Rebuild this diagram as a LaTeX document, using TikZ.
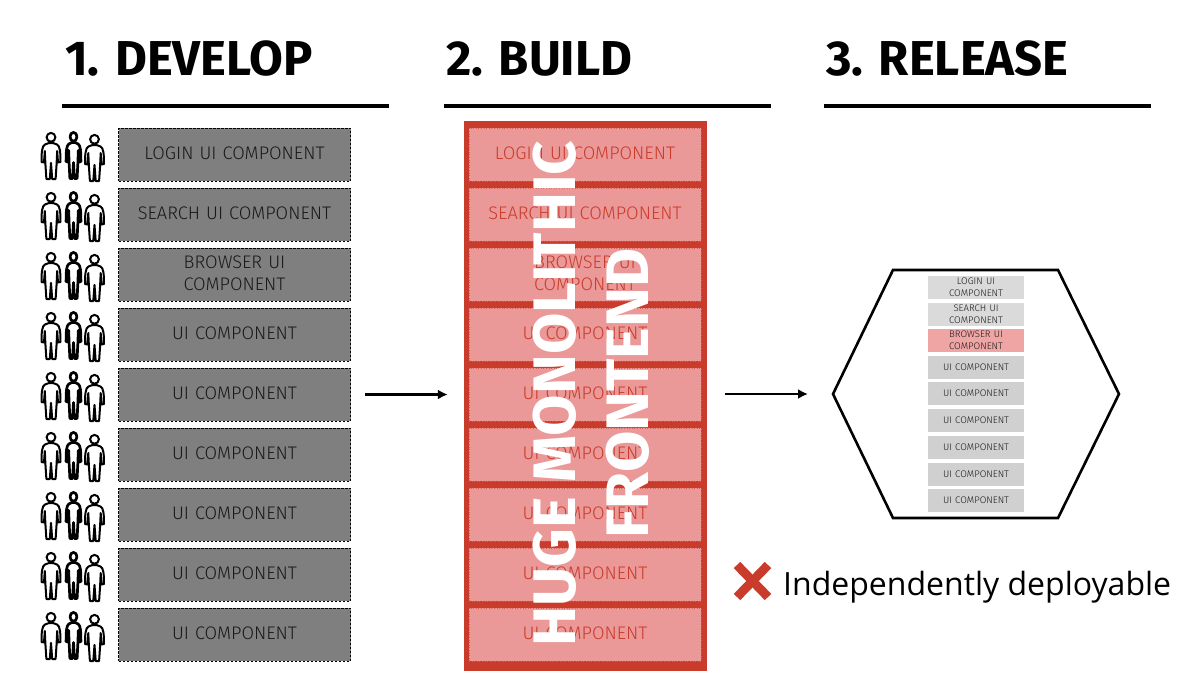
\documentclass[tikz,border=0pt]{standalone}
\usepackage{fontspec}
\setmainfont{Fira Sans}
\newfontfamily\compfont{Fira Sans Light}
\newfontfamily\headfont{Fira Sans}
\newfontfamily\notefont{Open Sans}
\definecolor{redd}{HTML}{C93C2B}
\definecolor{pinkk}{HTML}{EA9898}
\definecolor{grayy}{HTML}{7F7F7F}
\definecolor{lgr}{HTML}{D0D0D0}
\definecolor{lgrb}{HTML}{DADADA}
\definecolor{lpink}{HTML}{F0A5A5}
\usetikzlibrary{arrows.meta}
\tikzset{
  x=1pt,y=-1pt,
  heading/.style={anchor=base west,inner sep=0pt,font=\headfont\bfseries\fontsize{49}{49}\selectfont,text=black},
  rulebar/.style={line width=4pt,black},
  devbox/.style={draw=black,line width=.7pt,dash pattern=on 2.5pt off 1.5pt,fill=grayy,minimum width=232pt,minimum height=53pt,inner sep=2pt,align=center,text width=215pt,font=\compfont\fontsize{18.2}{21.5}\selectfont,text=black!90},
  redbox/.style={draw=redd!60!pinkk,line width=.6pt,dotted,fill=pinkk,minimum width=232pt,minimum height=53pt,inner sep=2pt,align=center,text width=215pt,font=\compfont\fontsize{18.2}{21.5}\selectfont,text=redd},
  smallbox/.style={fill=lgr,minimum width=96pt,minimum height=23pt,inner sep=0pt,align=center,text width=90pt,font=\compfont\fontsize{9.6}{12}\selectfont,text=black!90},
  flow/.style={line width=2.6pt,black,-{Latex[length=10pt,width=10pt]}},
  hex/.style={line width=2.6pt,black,line join=miter},
  figure/.style={line width=2pt,draw=black,fill=white,line join=round},
  person/.pic={
    \path[figure] (0,-4.7) circle (4.4);
    \path[figure] (-2,1) -- (2,1) -- (6,2.5) .. controls (9,4) and (9.5,10) .. (9.5,20) -- (7,20.5) -- (6.2,9) -- (5.6,22) -- (4.6,37) -- (1.2,37) -- (0,21) -- (-1.2,37) -- (-4.6,37) -- (-5.6,22) -- (-6.2,9) -- (-7,20.5) -- (-9.5,20) .. controls (-9.5,10) and (-9,4) .. (-6,2.5) -- cycle;
  }
}
\begin{document}
\begin{tikzpicture}
\useasboundingbox (0,0) rectangle (1200,675);
\fill[white] (0,0) rectangle (1200,675);
% headings
\node[heading] (h1) at (65,75) {1. DEVELOP};
\node[heading] (h2) at (446,75) {2. BUILD};
\node[heading] (h3) at (826,75) {3. RELEASE};
\draw[rulebar] (62,106) -- (389,106);
\draw[rulebar] (444,106) -- (771,106);
\draw[rulebar] (824,106) -- (1151,106);
% develop column
\foreach \i/\t in {0/LOGIN UI COMPONENT,1/SEARCH UI COMPONENT,2/BROWSER UI\\COMPONENT,3/UI COMPONENT,4/UI COMPONENT,5/UI COMPONENT,6/UI COMPONENT,7/UI COMPONENT,8/UI COMPONENT}{
  \pgfmathsetmacro{\yy}{154.5+60*\i}
  \node[devbox] (d\i) at (234.5,\yy) {\t\par\vspace{2pt}};
  \pic at (51,\yy-12.5) {person};
  \pic[xscale=.78,figure/.append style={line width=2.7pt}] at (73.5,\yy-13) {person};
  \pic at (94.5,\yy-10.5) {person};
}
% build column
\node[fill=redd,minimum width=243pt,minimum height=550pt,inner sep=0pt] (outer) at (585.5,395.5) {};
\foreach \i/\t in {0/LOGIN UI COMPONENT,1/SEARCH UI COMPONENT,2/BROWSER UI\\COMPONENT,3/UI COMPONENT,4/UI COMPONENT,5/UI COMPONENT,6/UI COMPONENT,7/UI COMPONENT,8/UI COMPONENT}{
  \pgfmathsetmacro{\yy}{154.5+60*\i}
  \node[redbox] (r\i) at (585,\yy) {\t\par\vspace{2pt}};
}
\node[rotate=90,text=white,align=center,inner sep=0pt,font=\headfont\bfseries\fontsize{60}{73}\selectfont] (mono) at (591.5,393.5) {HUGE MONOLITHIC\\FRONTEND};
% release hexagon
\coordinate (hw) at (833,394);
\coordinate (hnw) at (893,270);
\coordinate (hne) at (1058,270);
\coordinate (he) at (1119,394);
\coordinate (hse) at (1058,518);
\coordinate (hsw) at (893,518);
\draw[hex] (hw) -- (hnw) -- (hne) -- (he) -- (hse) -- (hsw) -- cycle;
\node[smallbox,fill=lgrb] (s0) at (976,287.5) {LOGIN UI\\COMPONENT};
\node[smallbox,fill=lgrb] (s1) at (976,314) {SEARCH UI\\COMPONENT};
\node[smallbox,fill=lpink] (s2) at (976,340.5) {BROWSER UI\\COMPONENT};
\foreach \i/\yy in {3/367,4/393.5,5/420.5,6/447,7/474,8/500.5}{
  \node[smallbox] (s\i) at (976,\yy) {UI COMPONENT};
}
% flow arrows
\draw[flow,shorten <=14pt,shorten >=16pt] (d4.east) -- (outer.west |- d4.east);
\draw[flow,shorten <=18pt,shorten >=25pt] (outer.east |- he) -- (hw);
% note
\draw[redd,line width=9pt] (737,565) -- (768,597);
\draw[redd,line width=9pt] (768,565) -- (737,597);
\node[anchor=base west,inner sep=0pt,font=\notefont\fontsize{32}{32}\selectfont,text=black] (note) at (783,595) {Independently deployable};
\end{tikzpicture}
\end{document}
